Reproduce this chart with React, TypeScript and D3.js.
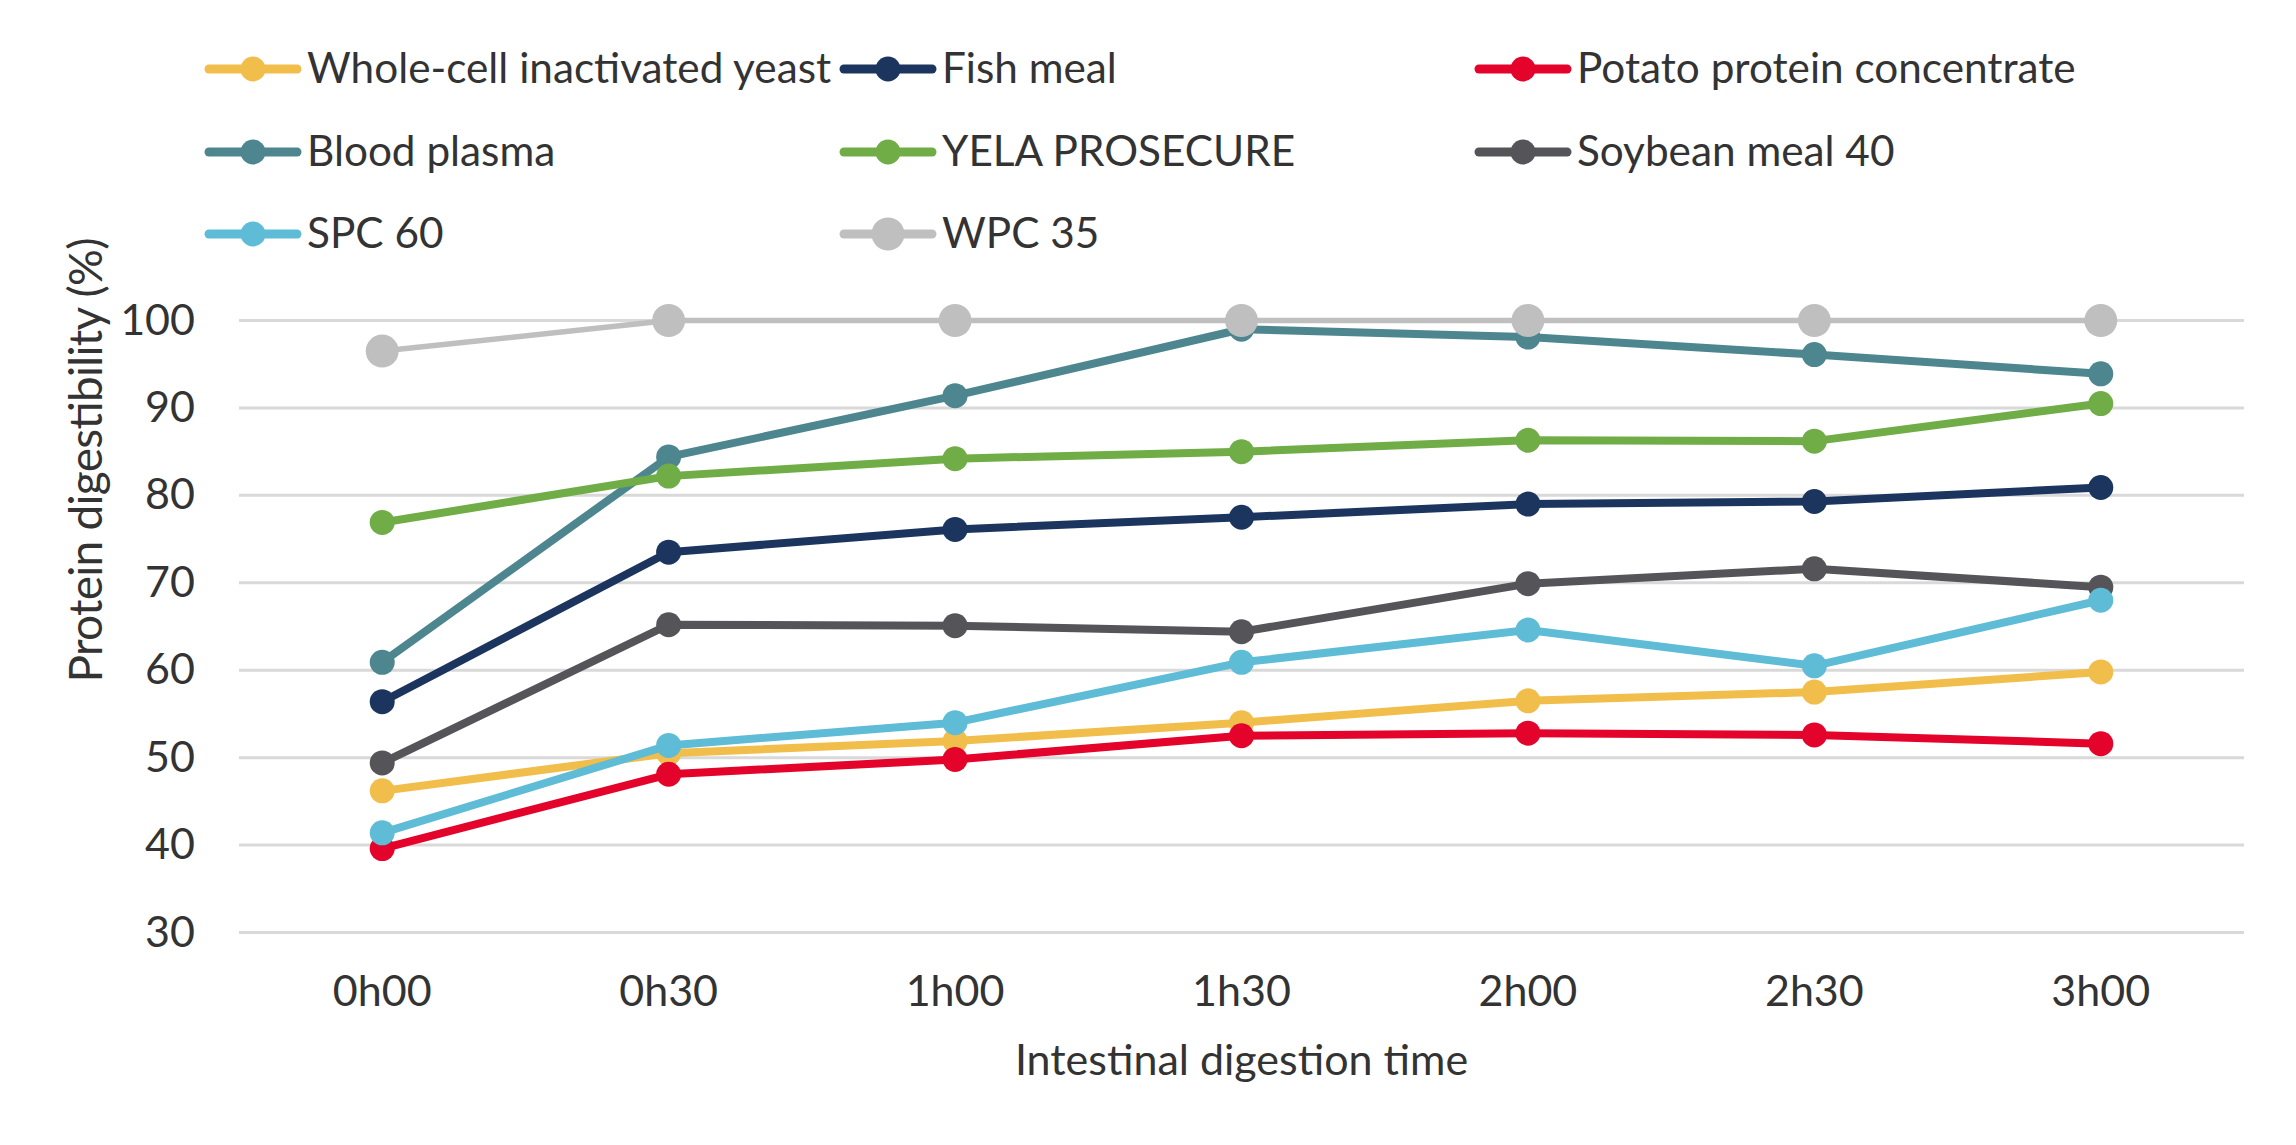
import * as d3 from 'd3';

const times = ['0h00', '0h30', '1h00', '1h30', '2h00', '2h30', '3h00'];

const seriesNames = [
	'Whole-cell inactivated yeast',
	'Fish meal',
	'Potato protein concentrate',
	'Blood plasma',
	'YELA PROSECURE',
	'Soybean meal 40',
	'SPC 60',
	'WPC 35',
];

const yeast = [46.2, 50.5, 51.9, 54.0, 56.5, 57.5, 59.8];
const fishMeal = [56.4, 73.5, 76.1, 77.5, 79.0, 79.3, 80.9];
const potato = [39.6, 48.1, 49.8, 52.5, 52.8, 52.6, 51.6];
const bloodPlasma = [60.9, 84.4, 91.4, 99.0, 98.1, 96.1, 93.9];
const yela = [76.9, 82.2, 84.2, 85.0, 86.3, 86.2, 90.5];
const soybean = [49.4, 65.2, 65.1, 64.4, 69.9, 71.6, 69.5];
const spc60 = [41.4, 51.4, 54.0, 60.9, 64.6, 60.5, 68.0];
const wpc35 = [96.5, 100, 100, 100, 100, 100, 100];

const yTicks = [30, 40, 50, 60, 70, 80, 90, 100];

const colors = ['#F1BE4B', '#1C355E', '#E4032A', '#4D868F', '#70AD47', '#555559', '#5FBCD6', '#BFBFBF'];

const allSeries = [yeast, fishMeal, potato, bloodPlasma, yela, soybean, spc60, wpc35];

const width = 2296,
	height = 1145;
const plot = { left: 239, right: 2244, top: 320.5, bottom: 932.5 };
const font = 'Lato, "Open Sans", sans-serif';
const textColor = '#333333';

export default function App() {
	const xScale = d3.scalePoint<string>().domain(times).range([plot.left, plot.right]).padding(0.5);
	const yScale = d3.scaleLinear().domain([30, 100]).range([plot.bottom, plot.top]);
	const line = d3
		.line<number>()
		.x((_, i) => xScale(times[i])!)
		.y((d) => yScale(d));

	// legend: 3 columns
	const legendX = [205, 840, 1475];
	const legendY = [69, 152, 234];

	return (
		<svg
			width={width}
			height={height}
			viewBox={`0 0 ${width} ${height}`}
			style={{ position: 'absolute', left: 0, top: 0, background: 'white', display: 'block' }}
			fontFamily={font}
		>
			{/* gridlines */}
			{yTicks.map((t) => (
				<g key={t}>
					<line x1={plot.left} x2={plot.right} y1={yScale(t)} y2={yScale(t)} stroke="#D9D9D9" strokeWidth={3} />
					<text x={195} y={yScale(t) + 14} textAnchor="end" fontSize={43} fill={textColor}>
						{t}
					</text>
				</g>
			))}
			{/* x labels */}
			{times.map((t) => (
				<text key={t} x={xScale(t)} y={1006} textAnchor="middle" fontSize={43} fill={textColor}>
					{t}
				</text>
			))}
			<text x={(plot.left + plot.right) / 2} y={1075} textAnchor="middle" fontSize={43} fill={textColor}>
				Intestinal digestion time
			</text>
			<text
				transform={`translate(102, 460) rotate(-90)`}
				textAnchor="middle"
				fontSize={46}
				textLength={445}
				lengthAdjust="spacing"
				fill={textColor}
			>
				Protein digestibility (%)
			</text>

			{/* series */}
			{allSeries.map((s, k) => {
				const big = k === 7;
				return (
					<g key={seriesNames[k]}>
						<path
							d={line(s)!}
							fill="none"
							stroke={colors[k]}
							strokeWidth={big ? 5.5 : 8}
							strokeLinejoin="round"
							strokeLinecap="round"
						/>
						{s.map((v, i) => (
							<circle key={i} cx={xScale(times[i])} cy={yScale(v)} r={big ? 16.5 : 12.5} fill={colors[k]} />
						))}
					</g>
				);
			})}

			{/* legend */}
			{seriesNames.map((name, k) => {
				const x = legendX[k % 3];
				const y = legendY[Math.floor(k / 3)];
				const big = k === 7;
				return (
					<g key={name} transform={`translate(${x}, ${y})`}>
						<line x1={4} x2={92} y1={0} y2={0} stroke={colors[k]} strokeWidth={9} strokeLinecap="round" />
						<circle cx={48} cy={0} r={big ? 16.5 : 12.5} fill={colors[k]} />
						<text x={102} y={14} fontSize={42.3} fill={textColor}>
							{name}
						</text>
					</g>
				);
			})}
		</svg>
	);
}
